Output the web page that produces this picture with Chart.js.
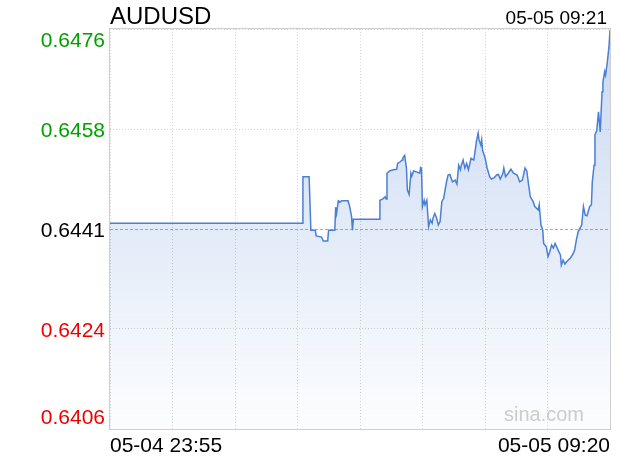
<!DOCTYPE html>
<html>
<head>
<meta charset="utf-8">
<script src="https://cdn.jsdelivr.net/npm/chart.js@4.4.1/dist/chart.umd.min.js"></script>
<style>
  body { margin: 0; background: #fff; }
  #wrap { width: 620px; height: 460px; }
</style>
</head>
<body>
<div id="wrap"><canvas id="myChart" width="620" height="460"></canvas></div>
<script>
const symbol = 'AUDUSD';
const lastTime = '05-05 09:21';
const prevClose = 0.6441;

// minutes since 05-04 23:55
const minutes = [0,217,218,225,227,232,233,239,241,246,247,254,255,256,258,260,262,269,271,273,274,275,304,305,308,311,312,313,316,320,324,325,328,330,331,333,335,336,338,340,341,343,347,350,351,352,353,355,356,358,360,362,364,365,367,369,371,373,375,377,379,380,382,384,387,390,392,394,396,397,399,401,403,405,408,411,412,414,416,417,419,420,421,424,426,429,431,434,437,439,441,444,445,447,450,453,456,460,463,466,469,471,473,475,478,480,484,485,487,489,490,493,495,497,499,501,503,507,509,510,512,514,516,520,523,525,527,529,531,533,535,537,539,542,544,545,547,548,550,552,554,556,557,559,560,562,564,565];

const prices = [0.64420,0.64420,0.64501,0.64501,0.64408,0.64408,0.64398,0.64396,0.64389,0.64389,
  0.64408,0.64408,0.64448,0.64437,0.64459,0.64457,0.64459,0.64459,0.64448,0.64431,
  0.64408,0.64427,0.64427,0.64460,0.64462,0.64466,0.64462,0.64507,0.64511,0.64513,
  0.64514,0.64524,0.64527,0.64530,0.64534,0.64538,0.64516,0.64478,0.64470,0.64507,
  0.64502,0.64511,0.64509,0.64507,0.64517,0.64516,0.64449,0.64460,0.64452,0.64460,
  0.64414,0.64426,0.64420,0.64429,0.64437,0.64429,0.64417,0.64423,0.64458,0.64463,
  0.64481,0.64490,0.64504,0.64505,0.64492,0.64495,0.64488,0.64521,0.64513,0.64521,
  0.64530,0.64516,0.64524,0.64513,0.64533,0.64530,0.64539,0.64562,0.64577,0.64565,
  0.64556,0.64565,0.64547,0.64533,0.64517,0.64501,0.64497,0.64499,0.64504,0.64505,
  0.64497,0.64507,0.64516,0.64501,0.64507,0.64514,0.64507,0.64504,0.64492,0.64495,
  0.64516,0.64511,0.64487,0.64466,0.64458,0.64449,0.64443,0.64452,0.64417,0.64408,
  0.64385,0.64379,0.64362,0.64371,0.64382,0.64377,0.64385,0.64371,0.64365,0.64347,
  0.64356,0.64349,0.64353,0.64359,0.64366,0.64373,0.64391,0.64405,0.64411,0.64417,
  0.64449,0.64434,0.64433,0.64449,0.64452,0.64492,0.64521,0.64574,0.64581,0.64614,
  0.64579,0.64649,0.64666,0.64684,0.64678,0.64701,0.64730,0.64756];

const yTicks = [0.64758, 0.64584, 0.6441, 0.64236, 0.64062];
const yTickLabels = ['0.6476', '0.6458', '0.6441', '0.6424', '0.6406'];
const yTickColors = ['#00a000', '#00a000', '#000000', '#ee0000', '#ee0000'];
const xTickLabels = ['05-04 23:55', '05-05 09:20'];
const xMax = 565;
const xDivisions = 8;

const FONT = '"Liberation Sans", Arial, sans-serif';
Chart.defaults.font.family = FONT;

const points = minutes.map((m, i) => ({ x: m, y: prices[i] }));

const decor = {
  id: 'decor',
  afterDraw(chart) {
    const { ctx, chartArea: a, scales: { y } } = chart;
    ctx.save();
    // frame
    ctx.strokeStyle = '#cfcfcf';
    ctx.lineWidth = 1;
    ctx.setLineDash([]);
    ctx.strokeRect(a.left - 0.5, a.top - 0.5, a.right - a.left + 1, a.bottom - a.top + 1);

    // title and time
    ctx.fillStyle = '#000';
    ctx.textBaseline = 'alphabetic';
    ctx.font = '24px ' + FONT;
    ctx.textAlign = 'left';
    ctx.fillText(symbol, a.left, 24);
    ctx.font = '19px ' + FONT;
    ctx.textAlign = 'right';
    ctx.fillText(lastTime, a.right - 3, 23.5);

    // y labels
    ctx.font = '21px ' + FONT;
    ctx.textAlign = 'right';
    yTicks.forEach((v, i) => {
      const py = y.getPixelForValue(v);
      let by = py + 7.5;
      if (i === 0) by = py + 18;
      if (i === yTicks.length - 1) by = py - 5;
      ctx.fillStyle = yTickColors[i];
      ctx.fillText(yTickLabels[i], a.left - 5, by);
    });

    // watermark
    ctx.font = '20px ' + FONT;
    ctx.fillStyle = '#cccccc';
    ctx.textAlign = 'right';
    ctx.fillText('sina.com', a.right - 26, a.bottom - 8);
    ctx.restore();
  }
};

const ctx = document.getElementById('myChart').getContext('2d');
const chart = new Chart(ctx, {
  type: 'line',
  data: {
    datasets: [{
      data: points,
      borderColor: '#4a7fd5',
      borderWidth: 1.5,
      pointRadius: 0,
      tension: 0,
      fill: 'start',
      backgroundColor: (c) => {
        const a = c.chart.chartArea;
        if (!a) return 'rgba(74,127,213,0.15)';
        const g = c.chart.ctx.createLinearGradient(0, a.top, 0, a.bottom);
        g.addColorStop(0, 'rgba(74,127,213,0.30)');
        g.addColorStop(1, 'rgba(74,127,213,0.01)');
        return g;
      }
    }]
  },
  options: {
    responsive: false,
    animation: false,
    layout: { padding: { top: 29, left: 10, right: 10, bottom: 0 } },
    plugins: { legend: { display: false }, tooltip: { enabled: false } },
    scales: {
      x: {
        type: 'linear',
        min: 0,
        max: xMax,
        afterBuildTicks: (s) => {
          s.ticks = Array.from({ length: xDivisions + 1 }, (_, i) => ({ value: i * xMax / xDivisions }));
        },
        afterFit: (s) => { s.height = 31; },
        ticks: {
          autoSkip: false,
          maxRotation: 0,
          align: 'inner',
          padding: 5,
          color: '#000',
          font: { size: 21 },
          callback: (v, i, arr) => i === 0 ? xTickLabels[0] : (i === arr.length - 1 ? xTickLabels[1] : '')
        },
        grid: { color: '#d4d4d4', drawTicks: false },
        border: { display: false, dash: [1, 2] }
      },
      y: {
        min: yTicks[yTicks.length - 1],
        max: yTicks[0],
        afterBuildTicks: (s) => { s.ticks = yTicks.map(v => ({ value: v })); },
        afterFit: (s) => { s.width = 100; },
        ticks: { display: false },
        grid: {
          drawTicks: false,
          color: (c) => (c.tick && Math.abs(c.tick.value - prevClose) < 1e-6) ? '#aaaaaa' : '#d4d4d4'
        },
        border: {
          display: false,
          dash: (c) => (c.tick && Math.abs(c.tick.value - prevClose) < 1e-6) ? [3, 2] : [1, 2]
        }
      }
    }
  },
  plugins: [decor]
});
</script>
</body>
</html>
